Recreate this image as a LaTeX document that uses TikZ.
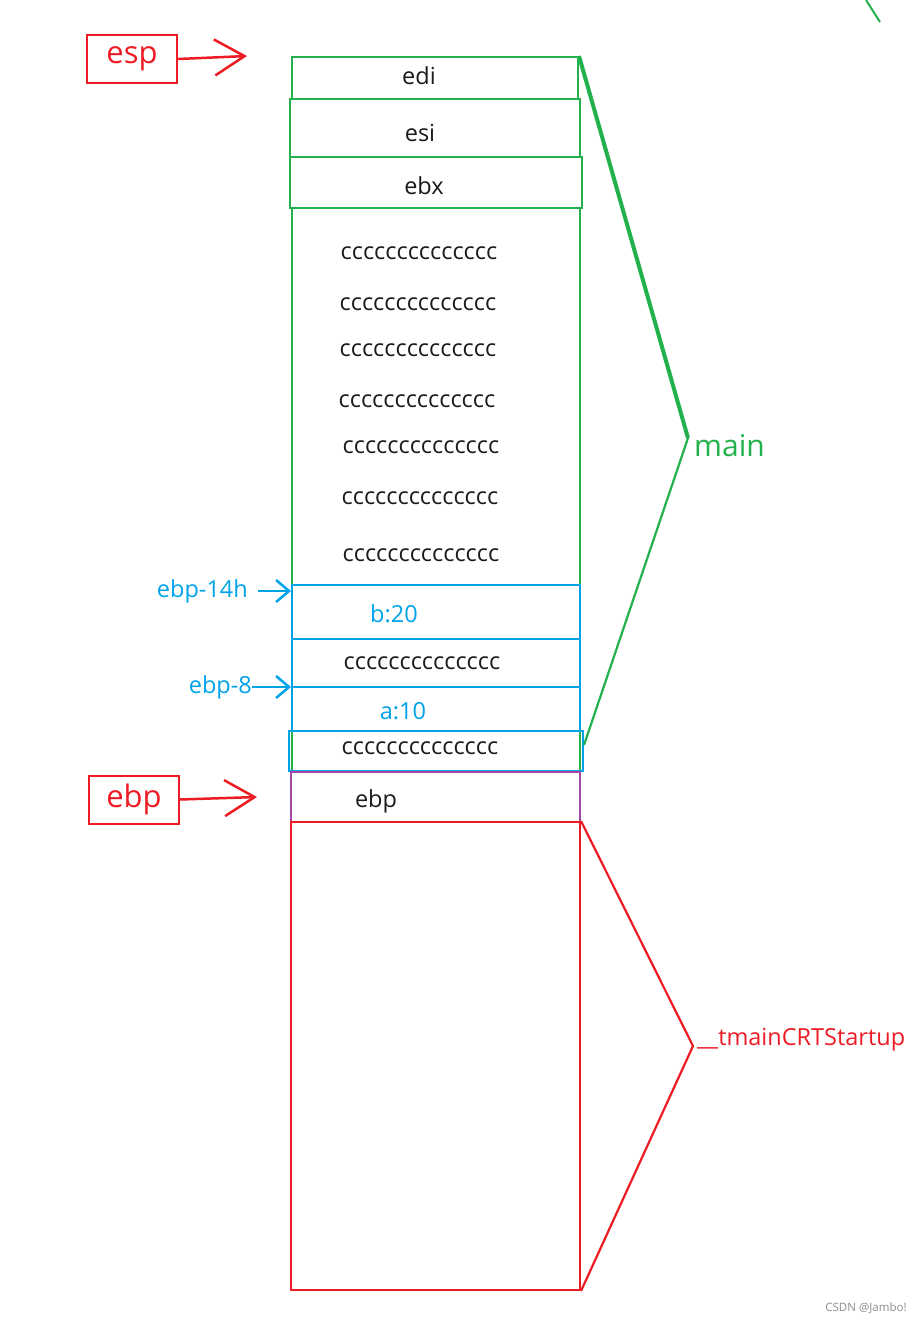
\documentclass[tikz,border=0pt]{standalone}
\usepackage{fontspec}
\setmainfont{Open Sans}
\usetikzlibrary{arrows.meta,positioning}
\definecolor{stackGreen}{HTML}{22B14C}
\definecolor{stackRed}{HTML}{ED1C24}
\definecolor{stackBlue}{HTML}{00A2E8}
\definecolor{stackPurple}{HTML}{A349A4}
\definecolor{stackInk}{HTML}{1A1A1A}

\begin{document}
\begin{tikzpicture}[
  x=1pt, y=-1pt,
  font=\fontsize{23.5}{26}\selectfont,
  cell/.style={draw, line width=2pt, inner sep=0pt, fill=none},
  word/.style={text=stackInk, inner sep=0pt},
  regbox/.style={draw=stackRed, line width=2pt, minimum width=90pt, minimum height=48pt, text=stackRed, font=\fontsize{31}{34}\selectfont},
  ptr/.style={-{Straight Barb[length=30pt,width=36pt]}, line width=2.5pt, draw=stackRed},
  off/.style={-{Straight Barb[length=13pt,width=22pt]}, line width=2.5pt, draw=stackBlue},
  offword/.style={text=stackBlue, inner sep=0pt},
  frame label/.style={anchor=west, inner sep=0pt, font=\fontsize{30}{33}\selectfont}
]
  \useasboundingbox (0,0) rectangle (919,1323);

  \node[cell, draw=stackGreen, minimum width=288pt, minimum height=564pt] (frame) at (436,490) {};
  \node[cell, draw=stackGreen, minimum width=286pt, minimum height=42pt] (edi) at (435,78) {};
  \node[cell, draw=stackGreen, minimum width=290pt, minimum height=58pt] (esi) at (435,128) {};
  \node[cell, draw=stackGreen, minimum width=292pt, minimum height=51pt] (ebx) at (436,182.5) {};
  \node[cell, draw=stackBlue, minimum width=288pt, minimum height=54pt] (b20) at (436,612) {};
  \node[cell, draw=stackBlue, minimum width=288pt, minimum height=48pt] (pad8) at (436,663) {};
  \node[cell, draw=stackBlue, minimum width=288pt, minimum height=44pt] (a10) at (436,709) {};
  \node[cell, draw=stackBlue, minimum width=294pt, minimum height=40pt] (pad9) at (436,751) {};
  \node[cell, draw=stackPurple, minimum width=289pt, minimum height=50pt] (oldebp) at (435.5,797) {};
  \node[cell, draw=stackRed, minimum width=289pt, minimum height=468pt] (caller) at (435.5,1056) {};

  \node[word] (ediw) at (419,76) {edi};
  \node[word] (esiw) at (420,133) {esi};
  \node[word] (ebxw) at (424,186) {ebx};
  \foreach \cx/\cy [count=\i] in {419/253, 418/304, 418/350, 417/401, 421/447, 420/498, 421/555, 422/663, 420/748} {
    \node[word] (pad\i w) at (\cx,\cy) {cccccccccccccc};
  }
  \node[offword] (b20w) at (394,614) {b:20};
  \node[offword] (a10w) at (403,711) {a:10};
  \node[word] (ebpw) at (376,801) {ebp};

  \node[regbox] (esp) at (132,59) {esp};
  \node[regbox] (ebp) at (134,799.5) {ebp};
  \coordinate (espTip) at (247,56);
  \coordinate (ebpTip) at (257,797);
  \draw[ptr] (esp.east) -- (espTip);
  \draw[ptr] (ebp.east) -- (ebpTip);

  \node[offword, anchor=east] (off14) at (248,591) {ebp-14h};
  \node[offword, anchor=east] (off8) at (252,687) {ebp-8};
  \draw[off] ([xshift=10pt]off14.east) -- (off14.east -| b20.west);
  \draw[off] (off8.east) -- (off8.east -| a10.west);

  \coordinate (mainTip) at (688,438);
  \coordinate (crtTip) at (693,1046);
  \draw[stackGreen, line width=4pt] (edi.north east) -- (mainTip);
  \draw[stackGreen, line width=2.2pt] (mainTip) -- ([yshift=6pt]pad9.east);
  \draw[stackRed, line width=2.2pt] (caller.north east) -- (crtTip) -- (caller.south east);
  \node[frame label, text=stackGreen] (mainw) at (694,446) {main};
  \node[frame label, text=stackRed, font=\fontsize{23.5}{26}\selectfont] (crtw) at (697,1040) {\_\_tmainCRTStartup};

  \draw[stackGreen, line width=2pt] (866,0) -- (880,22);
  \node[text=black!45, inner sep=0pt, font=\fontsize{11.5}{13}\selectfont] (mark) at (866,1308) {CSDN @Jambo!};
\end{tikzpicture}
\end{document}
